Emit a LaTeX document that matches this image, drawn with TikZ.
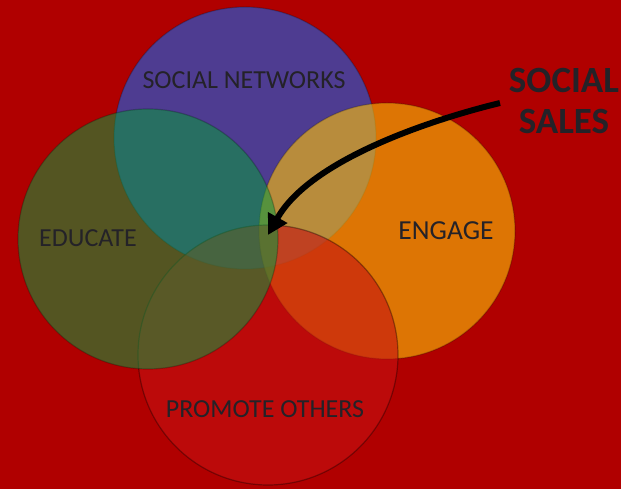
\documentclass[tikz,border=0pt]{standalone}
\usepackage{fontspec}
\setmainfont{Carlito}
\usetikzlibrary{arrows.meta}
\definecolor{bgred}{RGB}{176,0,0}
\definecolor{netblue}{RGB}{54,76,182}
\definecolor{enggold}{RGB}{250,190,8}
\definecolor{promred}{RGB}{196,17,17}
\definecolor{edugreen}{RGB}{12,152,62}
\definecolor{labelink}{RGB}{36,34,40}

\begin{document}
\begin{tikzpicture}[x=1pt, y=1pt,
	ring/.style={draw=black, draw opacity=0.22, line width=1.2pt},
	label/.style={text=labelink, font=\fontsize{26}{29}\selectfont, inner sep=0pt}]

	\useasboundingbox (0,0) rectangle (621,489);
	\fill[bgred] (0,0) rectangle (621,489);

	% the four circles, back to front
	\draw[ring, fill=netblue, fill opacity=0.8] (245,351) circle (131);
	\draw[ring, fill=enggold, fill opacity=0.62] (387,258) circle (128);
	\draw[ring, draw opacity=0.35, fill=promred, fill opacity=0.6] (268,134) circle (130);
	\draw[ring, fill=edugreen, fill opacity=0.56] (148,250) circle (130);

	\node[label] (networks) at (244,409) {SOCIAL NETWORKS};
	\node[label] (educate) at (88,251) {EDUCATE};
	\node[label, font=\fontsize{27.5}{30}\selectfont] (engage) at (446,258) {ENGAGE};
	\node[label] (promote) at (265,80) {PROMOTE OTHERS};

	\node[text=labelink, align=center, inner sep=0pt,
		font=\fontsize{37}{41}\selectfont\bfseries] (sales) at (564,388) {SOCIAL\\SALES};

	\coordinate (tail) at (500,386);
	\coordinate (hub) at (268,254);
	\draw[line width=6pt, -{Triangle[length=20pt, width=21pt]}]
		(tail) .. controls (430,369) and (310,329) .. (hub);

\end{tikzpicture}
\end{document}
